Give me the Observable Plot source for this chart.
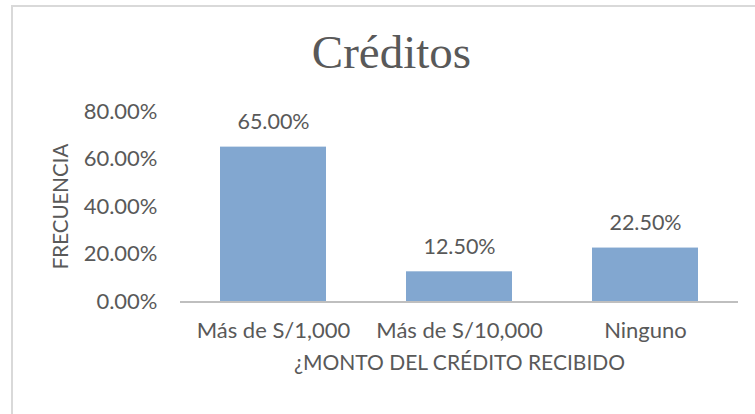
<!DOCTYPE html>
<html>
<head>
<meta charset="utf-8">
<script src="https://cdn.jsdelivr.net/npm/d3@7"></script>
<script src="https://cdn.jsdelivr.net/npm/@observablehq/plot@0.6"></script>
<style>
  html, body { margin: 0; padding: 0; background: #fff; }
  body { width: 755px; height: 414px; overflow: hidden; }
</style>
</head>
<body>
<div id="chart"></div>
<script>
const categories = ["Más de S/1,000", "Más de S/10,000", "Ninguno"];
const values = [0.65, 0.125, 0.225];
const yTicks = [0, 0.2, 0.4, 0.6, 0.8];
const title = "Créditos";
const xTitle = "¿MONTO DEL CRÉDITO RECIBIDO";
const yTitle = "FRECUENCIA";

const data = categories.map((c, i) => ({category: c, value: values[i]}));
const fmt = d3.format(".2%");
const textColor = "#595959";
const sans = "Lato, 'Noto Sans', sans-serif";

const chart = Plot.plot({
  width: 755,
  height: 414,
  marginTop: 111,
  marginBottom: 113,
  marginLeft: 180,
  marginRight: 17,
  style: {fontFamily: sans, color: textColor, background: "#fff", overflow: "visible"},
  x: {domain: categories, paddingInner: 0.43, paddingOuter: 0.215},
  y: {domain: [0, 0.8]},
  marks: [
    Plot.barY(data, {x: "category", y: "value", fill: "#82a7d0"}),
    Plot.ruleY([0], {stroke: "#bfbfbf", strokeWidth: 2, dy: 0.5}),
    Plot.text(data, {x: "category", y: "value", text: d => fmt(d.value), dy: -18, fontSize: 21.5, fill: textColor, lineAnchor: "bottom"}),
    Plot.axisY({ticks: yTicks, tickFormat: fmt, tickSize: 0, tickPadding: 23, fontSize: 22, label: null, color: textColor}),
    Plot.axisX({tickSize: 0, tickPadding: 21, fontSize: 22, label: null, color: textColor}),
    Plot.text([xTitle], {frameAnchor: "bottom", dy: 68, fontSize: 21, fill: textColor}),
    Plot.text([yTitle], {frameAnchor: "left", textAnchor: "middle", dx: -119, rotate: -90, fontSize: 20.5, fill: textColor}),
    Plot.text([title], {frameAnchor: "top", dx: -68, dy: -77, fontSize: 47, fill: textColor, fontFamily: "'Liberation Serif', serif"})
  ]
});

// decorative chart-area border (extends past the visible window)
d3.select(chart).insert("rect", ":first-child")
  .attr("x", 12).attr("y", 6).attr("width", 900).attr("height", 600)
  .attr("fill", "none").attr("stroke", "#d9d9d9").attr("stroke-width", 2);

document.getElementById("chart").appendChild(chart);
</script>
</body>
</html>
